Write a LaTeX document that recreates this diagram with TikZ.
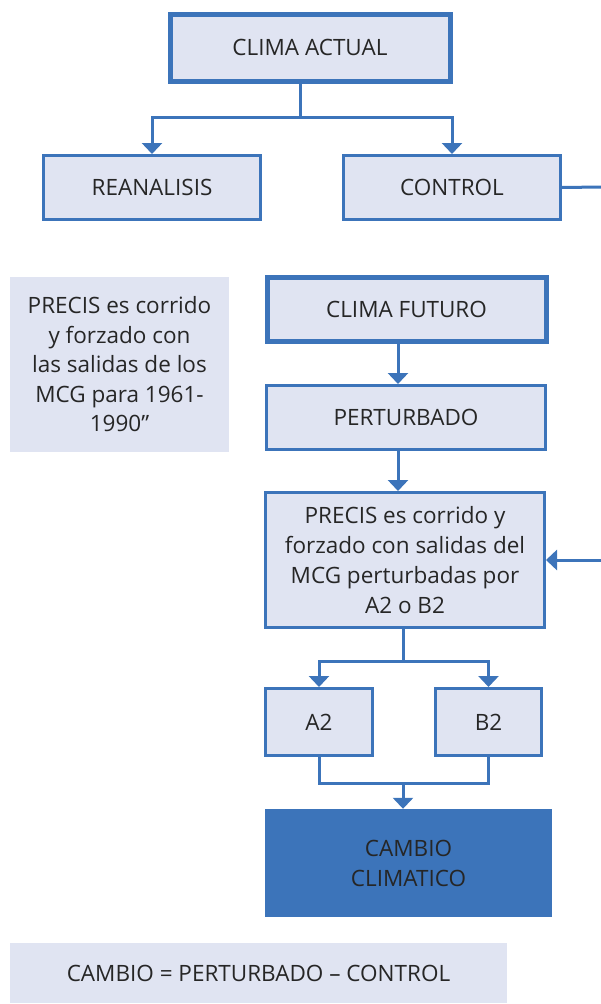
\documentclass[tikz,border=0pt]{standalone}
\usepackage{fontspec}
\setmainfont{Open Sans}
\usetikzlibrary{arrows.meta}
\definecolor{bfill}{HTML}{E0E4F2}
\definecolor{bline}{HTML}{3C74BA}
\definecolor{bdark}{HTML}{3C74BA}
\definecolor{txt}{HTML}{262626}
\tikzset{
  box/.style={draw=bline, line width=3pt, fill=bfill, rectangle, inner sep=0pt, align=center, text=txt, font=\fontsize{22.5}{30}\selectfont},
  thickbox/.style={box, line width=5pt},
  notebox/.style={fill=bfill, rectangle, inner sep=0pt, align=center, text=txt, font=\fontsize{22.5}{29.5}\selectfont},
  conn/.style={draw=bline, line width=3pt},
  arr/.style={conn, -{Triangle[width=20pt,length=11pt]}},
}
\begin{document}
\begin{tikzpicture}[x=1pt,y=-1pt]
\useasboundingbox (0,0) rectangle (601,1004);
\node[thickbox, minimum width=280pt, minimum height=67pt] (actual) at (310,47.5) {CLIMA ACTUAL};
\node[box, minimum width=217pt, minimum height=64pt] (rean) at (152,187.5) {REANALISIS};
\node[box, minimum width=217pt, minimum height=64pt] (control) at (452,187.5) {CONTROL};
\node[notebox, minimum width=219pt, minimum height=175pt] (note1) at (119.5,364.5) {PRECIS es corrido\\y forzado con\\las salidas de los\\MCG para 1961-\\1990”};
\node[thickbox, minimum width=279pt, minimum height=64pt] (futuro) at (406.5,309) {CLIMA FUTURO};
\node[box, minimum width=279pt, minimum height=64pt] (pert) at (406,417.5) {PERTURBADO};
\node[box, minimum width=279pt, minimum height=135pt] (precis) at (405,560) {PRECIS es corrido y\\forzado con salidas del\\MCG perturbadas por\\A2 o B2};
\node[box, minimum width=107pt, minimum height=67pt] (a2) at (319,722) {A2};
\node[box, minimum width=106pt, minimum height=67pt] (b2) at (488.5,722) {B2};
\node[fill=bdark, rectangle, inner sep=0pt, align=center, text=txt, font=\fontsize{22.5}{30}\selectfont, minimum width=287pt, minimum height=108pt] (cambio) at (408.5,863) {CAMBIO\\CLIMATICO};
\node[notebox, minimum width=497pt, minimum height=60pt] (note2) at (258.5,973) {CAMBIO = PERTURBADO – CONTROL};
% connectors
\coordinate (s1) at (300,117);
\coordinate (s1l) at (152,117);
\coordinate (s1r) at (452,117);
\draw[conn] (actual.south -| s1) -- (s1);
\draw[arr] (s1) -- (s1l) -- (rean.north -| s1l);
\draw[arr] (s1) -- (s1r) -- (control.north -| s1r);
\coordinate (cr) at (601,187);
\draw[conn] (control.east) -- (cr);
\coordinate (f1) at (398,0);
\draw[arr] (futuro.south -| f1) -- (pert.north -| f1);
\draw[arr] (pert.south -| f1) -- (precis.north -| f1);
\coordinate (pr) at (601,560);
\draw[arr] (pr) -- (precis.east);
\coordinate (s2) at (403,661);
\coordinate (s2l) at (319,661);
\coordinate (s2r) at (488.5,661);
\draw[conn] (precis.south -| s2) -- (s2);
\draw[arr] (s2) -- (s2l) -- (a2.north);
\draw[arr] (s2) -- (s2r) -- (b2.north);
\coordinate (m1) at (319,783);
\coordinate (m2) at (488.5,783);
\coordinate (m3) at (403,783);
\draw[conn] (a2.south) -- (m1) -- (m2) -- (b2.south);
\draw[arr] (m3) -- (cambio.north -| m3);
\end{tikzpicture}
\end{document}
